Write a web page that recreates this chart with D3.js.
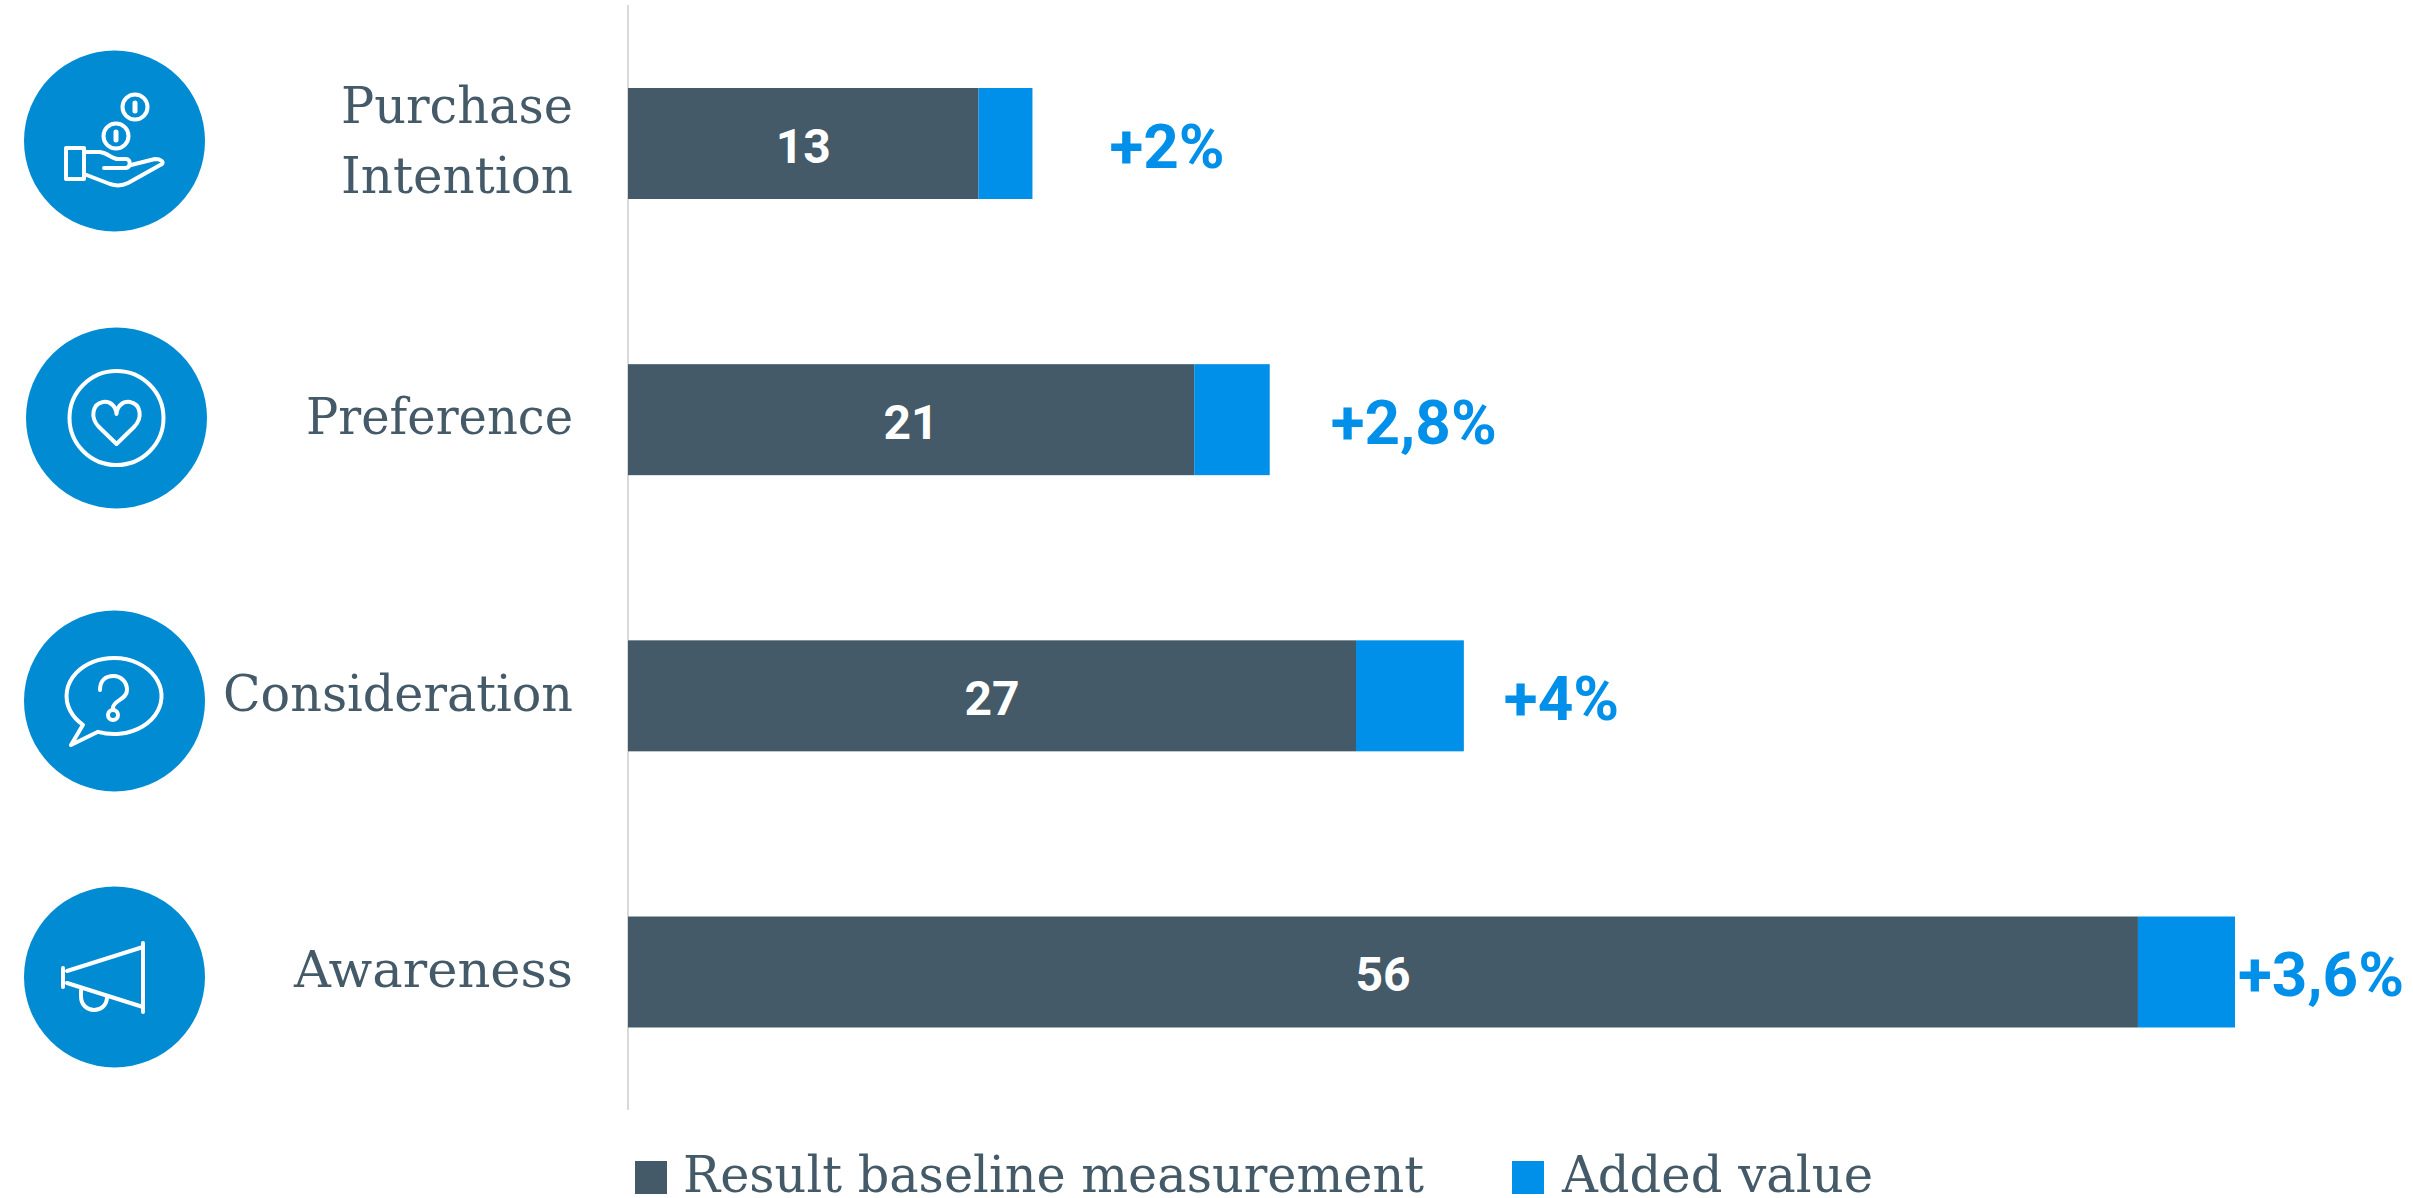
<!DOCTYPE html>
<html><head><meta charset="utf-8">
<script src="https://cdn.jsdelivr.net/npm/d3@7"></script>
<style>html,body{margin:0;background:#fff}svg{display:block}</style></head>
<body><svg id="c" width="2413" height="1198"></svg>
<script>
const categories=["Purchase Intention","Preference","Consideration","Awareness"];
const baseline=[13,21,27,56];
const added=[2,2.8,4,3.6];
const addedLabels=["+2%","+2,8%","+4%","+3,6%"];
const seriesNames=["Result baseline measurement","Added value"];
const dark="#445a68",blue="#0090ea",round="#008bd2";
const svg=d3.select("#c");
const x=d3.scaleLinear().domain([0,59.6]).range([628,2235]);
const y=d3.scalePoint().domain(categories).range([143.500,972]);
const barH=111;
const serif="'DejaVu Serif','Liberation Serif',serif";

// fitted text helper: the slab face is narrower than the fallback serif
const fit=(t,px,py,size,len,col)=>svg.append("text")
  .attr("x",px).attr("y",py).attr("font-family",serif).attr("font-size",size)
  .attr("fill",col).attr("textLength",len).attr("lengthAdjust","spacingAndGlyphs").text(t);

svg.append("line").attr("x1",628).attr("x2",628).attr("y1",5).attr("y2",1110).attr("stroke","#d9d9d9").attr("stroke-width",2);

const deltaGap=[77,61,40,3];
categories.forEach((c,i)=>{
 const yy=y(c);
 svg.append("rect").attr("x",x(0)).attr("y",yy-barH/2).attr("width",x(baseline[i])-x(0)).attr("height",barH).attr("fill",dark);
 svg.append("rect").attr("x",x(baseline[i])).attr("y",yy-barH/2).attr("width",x(added[i]+baseline[i])-x(baseline[i])).attr("height",barH).attr("fill",blue);
 svg.append("text").attr("x",x(baseline[i]/2)).attr("y",yy+19).attr("text-anchor","middle")
   .attr("font-family","Roboto").attr("font-weight",700).attr("font-size",48).attr("fill","#fff").text(baseline[i]);
 svg.append("text").attr("x",x(baseline[i]+added[i])+deltaGap[i]).attr("y",yy+24)
   .attr("font-family","Roboto").attr("font-weight",700).attr("font-size",62).attr("fill",blue).text(addedLabels[i]);
});

fit("Purchase",341,123,50,232,dark);
fit("Intention",341,193,50,232,dark);
fit("Preference",306,434,50,267,dark);
fit("Consideration",223,711,50,350,dark);
fit("Awareness",294,987,50,279,dark);

// icon badges
[[114.500,141],[116.500,418],[114.500,701],[114.500,977]].forEach(([a,b])=>
  svg.append("circle").attr("cx",a).attr("cy",b).attr("r",90.500).attr("fill",round));
const g=svg.append("g").attr("fill","none").attr("stroke","#fff").attr("stroke-width",4).attr("stroke-linecap","round").attr("stroke-linejoin","round");
// coins in an open hand
g.append("rect").attr("x",66).attr("y",148).attr("width",18).attr("height",31);
g.append("path").attr("d","M84 152H100C108 153 112 159 118 159H126C131 159 131 167 126 168H104M131 165L155 159C161 159 164 162 162 164L128 183C122 186 116 186 110 184L84 174");
g.append("circle").attr("cx",116).attr("cy",136).attr("r",12.500);
g.append("circle").attr("cx",135).attr("cy",107).attr("r",12.500);
g.append("path").attr("d","M116 132V140M135 103V111").attr("stroke-width",5);
// heart in a ring
g.append("circle").attr("cx",116.500).attr("cy",418).attr("r",47);
g.append("path").attr("d","M116.500 444L99 427C90 418 92 404 103 402C110 401 116 406 116.500 414C117 406 123 401 130 402C141 404 143 418 134 427Z");
// question bubble
g.append("path").attr("d","M83 724.800A47.500 38 0 1 1 98 731.800L71 745Z");
g.append("path").attr("d","M100 690C100 680 106 676 113.500 676C121 676 127 682 127 690C127 700 113 700 113 708");
g.append("circle").attr("cx",113).attr("cy",715).attr("r",5);
// megaphone
g.append("path").attr("d","M63 968V987M67 971L143 947M67 983L143 1007M143 943V1012M81 990V996C81 1015 107 1014 107 997");

// legend
[[635,dark,seriesNames[0],741,683],[1512,blue,seriesNames[1],311,1562]].forEach(([lx,col,t,len,tx])=>{
 svg.append("rect").attr("x",lx).attr("y",1161).attr("width",32).attr("height",33).attr("fill",col);
 fit(t,tx,1192,50,len,dark);
});
</script></body></html>
